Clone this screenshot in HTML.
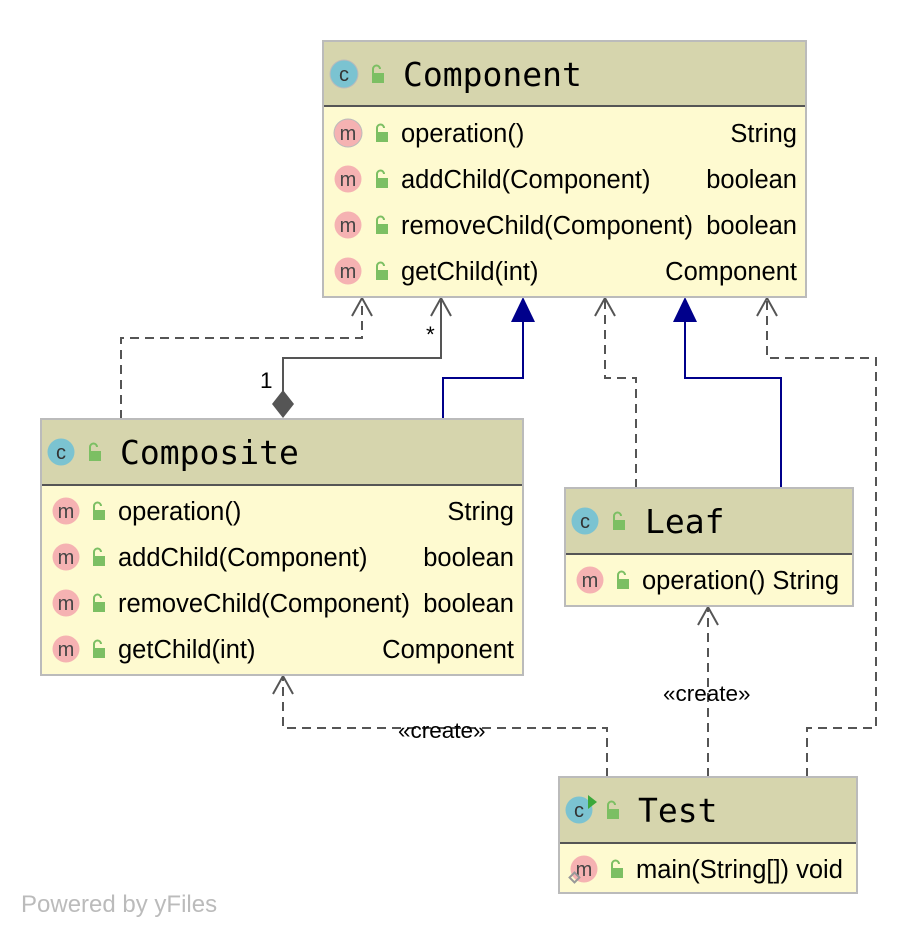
<!DOCTYPE html>
<html><head><meta charset="utf-8"><style>
body{margin:0;background:#fff}
svg{display:block}
.t{font-family:"DejaVu Sans Mono","Liberation Mono",monospace;font-size:33px;fill:#000}
.r{font-family:"Liberation Sans",sans-serif;font-size:25.5px;fill:#000}
.l{font-family:"Liberation Sans",sans-serif;font-size:22.5px;fill:#000}
</style></head><body>
<svg width="916" height="936" viewBox="0 0 916 936" xmlns="http://www.w3.org/2000/svg">
<defs>
<g id="lock"><rect x="-4" y="-2" width="12" height="10" fill="#7cbf63"/><path d="M-3,-2 v-4 a3.5,3.5 0 0 1 7,0" fill="none" stroke="#7cbf63" stroke-width="2"/></g>
<g id="ci"><circle r="13.5" fill="#7bc3d1"/><text x="0" y="7" text-anchor="middle" font-family="Liberation Sans,sans-serif" font-size="20" fill="#333">c</text></g>
<g id="mi"><circle r="13.5" fill="#f5b2b2"/><text x="0" y="7" text-anchor="middle" font-family="Liberation Sans,sans-serif" font-size="20" fill="#444">m</text></g>
</defs>

<!-- connectors -->
<g fill="none" stroke="#555" stroke-width="2" stroke-dasharray="9,6">
<polyline points="121,419 121,338 362,338 362,299"/>
<polyline points="636,488 636,378 605,378 605,299"/>
<polyline points="807,777 807,728 876,728 876,358 767,358 767,299"/>
<polyline points="708,777 708,608"/>
<polyline points="607,777 607,728 283,728 283,677"/>
</g>
<g fill="none" stroke="#555" stroke-width="2">
<polyline points="352,316 362,298 372,316"/>
<polyline points="595,316 605,298 615,316"/>
<polyline points="757,316 767,298 777,316"/>
<polyline points="698,625 708,607 718,625"/>
<polyline points="273,694 283,676 293,694"/>
<polyline points="431,316 441,298 451,316"/>
<polyline points="283,392 283,358 441,358 441,298"/>
</g>
<polygon points="283,390 294,404 283,418 272,404" fill="#555"/>
<text class="l" x="426" y="342">*</text>
<text class="l" x="260" y="388">1</text>
<g fill="none" stroke="#00008b" stroke-width="2">
<polyline points="443,419 443,378 523,378 523,320"/>
<polyline points="781,488 781,378 685,378 685,320"/>
</g>
<polygon points="523,297 535,322 511,322" fill="#00008b"/>
<polygon points="685,297 697,322 673,322" fill="#00008b"/>
<text class="l" x="663" y="701">«create»</text>
<text class="l" x="398" y="738">«create»</text>

<!-- Component -->
<rect x="323" y="41" width="483" height="256" fill="#fefad0" stroke="#bbb" stroke-width="2"/>
<rect x="324" y="42" width="481" height="64" fill="#d6d5ad"/>
<line x1="324" y1="106" x2="805" y2="106" stroke="#555" stroke-width="2"/>
<circle cx="344" cy="74" r="14.5" fill="#bbb"/><use href="#ci" x="344" y="74"/>
<use href="#lock" x="376" y="75"/>
<text class="t" x="403" y="86">Component</text>
<circle cx="348" cy="133" r="14.5" fill="#bbb"/><use href="#mi" x="348" y="133"/><use href="#lock" x="380" y="134"/><text class="r" x="401" y="142">operation()</text><text class="r" x="797" y="142" text-anchor="end">String</text>
<use href="#mi" x="348" y="179"/><use href="#lock" x="380" y="180"/><text class="r" x="401" y="188">addChild(Component)</text><text class="r" x="797" y="188" text-anchor="end">boolean</text>
<use href="#mi" x="348" y="225"/><use href="#lock" x="380" y="226"/><text class="r" x="401" y="234">removeChild(Component)</text><text class="r" x="797" y="234" text-anchor="end">boolean</text>
<use href="#mi" x="348" y="271"/><use href="#lock" x="380" y="272"/><text class="r" x="401" y="280">getChild(int)</text><text class="r" x="797" y="280" text-anchor="end">Component</text>

<!-- Composite -->
<rect x="41" y="419" width="482" height="256" fill="#fefad0" stroke="#bbb" stroke-width="2"/>
<rect x="42" y="420" width="480" height="65" fill="#d6d5ad"/>
<line x1="42" y1="485" x2="522" y2="485" stroke="#555" stroke-width="2"/>
<use href="#ci" x="61" y="452"/><use href="#lock" x="93" y="453"/>
<text class="t" x="120" y="464">Composite</text>
<use href="#mi" x="66" y="511"/><use href="#lock" x="97" y="512"/><text class="r" x="118" y="520">operation()</text><text class="r" x="514" y="520" text-anchor="end">String</text>
<use href="#mi" x="66" y="557"/><use href="#lock" x="97" y="558"/><text class="r" x="118" y="566">addChild(Component)</text><text class="r" x="514" y="566" text-anchor="end">boolean</text>
<use href="#mi" x="66" y="603"/><use href="#lock" x="97" y="604"/><text class="r" x="118" y="612">removeChild(Component)</text><text class="r" x="514" y="612" text-anchor="end">boolean</text>
<use href="#mi" x="66" y="649"/><use href="#lock" x="97" y="650"/><text class="r" x="118" y="658">getChild(int)</text><text class="r" x="514" y="658" text-anchor="end">Component</text>

<!-- Leaf -->
<rect x="565" y="488" width="288" height="118" fill="#fefad0" stroke="#bbb" stroke-width="2"/>
<rect x="566" y="489" width="286" height="65" fill="#d6d5ad"/>
<line x1="566" y1="554" x2="852" y2="554" stroke="#555" stroke-width="2"/>
<use href="#ci" x="585" y="521"/><use href="#lock" x="617" y="522"/>
<text class="t" x="645" y="533">Leaf</text>
<use href="#mi" x="590" y="580"/><use href="#lock" x="621" y="581"/><text class="r" x="642" y="589">operation() String</text>

<!-- Test -->
<rect x="559" y="777" width="298" height="116" fill="#fefad0" stroke="#bbb" stroke-width="2"/>
<rect x="560" y="778" width="296" height="65" fill="#d6d5ad"/>
<line x1="560" y1="843" x2="856" y2="843" stroke="#555" stroke-width="2"/>
<use href="#ci" x="579" y="810"/><polygon points="588,795 597,802 588,809" fill="#3ba83b"/><use href="#lock" x="611" y="811"/>
<text class="t" x="638" y="822">Test</text>
<use href="#mi" x="584" y="869"/><rect x="571" y="874" width="7" height="7" fill="none" stroke="#999" stroke-width="2" transform="rotate(45 574.5 877.5)"/><use href="#lock" x="615" y="870"/><text class="r" x="636" y="878">main(String[]) void</text>

<text x="21" y="912" font-family="Liberation Sans,sans-serif" font-size="24" fill="#bbb">Powered by yFiles</text>
</svg>
</body></html>
